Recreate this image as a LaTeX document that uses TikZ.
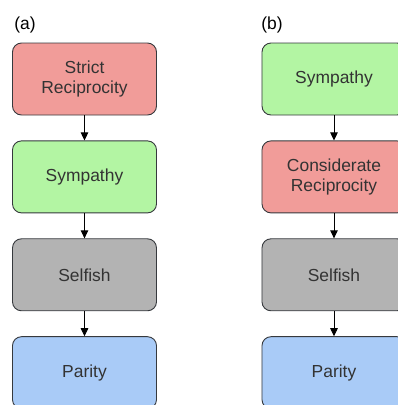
\documentclass[tikz,border=0pt]{standalone}
\usepackage{fontspec}
\setmainfont{Liberation Sans}
\usepackage{xcolor}
\usetikzlibrary{arrows.meta,positioning}
\definecolor{redbox}{HTML}{F19C99}
\definecolor{greenbox}{HTML}{B3F5A3}
\definecolor{greybox}{HTML}{B3B3B3}
\definecolor{bluebox}{HTML}{A9CBF7}
\definecolor{edgeline}{HTML}{36393D}
\definecolor{txt}{HTML}{333333}
\tikzset{
  box/.style={draw=edgeline,line width=0.9pt,rounded corners=9bp,minimum width=144bp,minimum height=72bp,
    align=center,inner sep=0pt,font=\fontsize{17.5}{20.5}\selectfont,text=txt},
  rb/.style={box,fill=redbox},
  gb/.style={box,fill=greenbox},
  sb/.style={box,fill=greybox},
  bb/.style={box,fill=bluebox},
  ar/.style={-{Triangle[length=8bp,width=7.5bp]},line width=0.8pt,black},
  tag/.style={font=\fontsize{17.5}{20}\selectfont,inner sep=0pt}
}
\begin{document}
\begin{tikzpicture}[x=1bp,y=1bp,node distance=25bp]
\clip (0,0) rectangle (398,-405);
% (a)
\node[tag] (la) at (25,-25) {(a)};
\node[rb] (a1) at (84.5,-79) {Strict\\Reciprocity};
\node[gb,below=of a1] (a2) {Sympathy};
\node[sb,below=of a2] (a3) {Selfish};
\node[bb,below=of a3] (a4) {Parity};
\draw[ar] (a1) -- (a2);
\draw[ar] (a2) -- (a3);
\draw[ar] (a3) -- (a4);
% (b)
\node[tag] (lb) at (272,-25) {(b)};
\node[gb] (b1) at (334,-79) {Sympathy};
\node[rb,below=of b1] (b2) {Considerate\\Reciprocity};
\node[sb,below=of b2] (b3) {Selfish};
\node[bb,below=of b3] (b4) {Parity};
\draw[ar] (b1) -- (b2);
\draw[ar] (b2) -- (b3);
\draw[ar] (b3) -- (b4);
\end{tikzpicture}
\end{document}
